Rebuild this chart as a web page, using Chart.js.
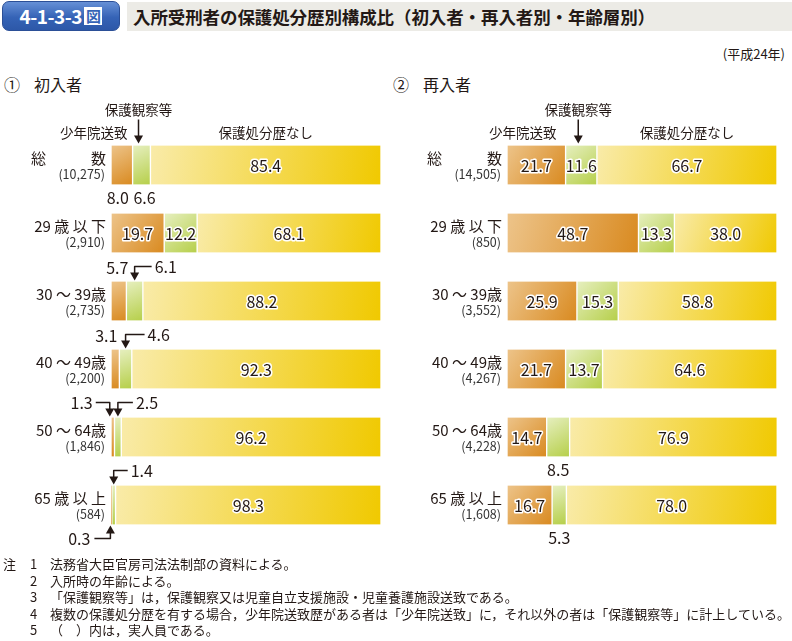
<!DOCTYPE html>
<html lang="ja">
<head>
<meta charset="utf-8">
<title>4-1-3-3図</title>
<script src="https://cdn.jsdelivr.net/npm/chart.js@4.4.1/dist/chart.umd.min.js"></script>
<style>
  body { margin: 0; background: #fff; }
  #page { position: relative; width: 792px; height: 641px; overflow: hidden;
          font-family: "Noto Sans CJK JP", "Noto Sans", sans-serif; color: #231815; }
  .badge { position: absolute; left: 2px; top: 1px; width: 118px; height: 30px; box-sizing: border-box;
           border-radius: 7px; border: 1px solid #2b4f97;
           background: linear-gradient(#6690d6, #3563b6 55%, #2d58a8);
           color: #fff; font-weight: bold; font-size: 19px; line-height: 28px; text-align: center; letter-spacing: -0.5px; }
  .badge span { display: inline-block; font-size: 15px; line-height: 16px; padding: 0 1px; margin-left: 2px;
                border: 1px solid #fff; background: #fff; color: #3563b6; vertical-align: 2px; }
  .band { position: absolute; left: 127px; top: 2px; right: 0; height: 29px; background: #ecebe6; }
  .title { position: absolute; left: 133px; top: 2px; height: 29px; line-height: 29px;
           font-size: 17.5px; font-weight: bold; letter-spacing: -0.1px; }
  .year { position: absolute; right: 7px; top: 44px; font-size: 13px; }
  .panel { position: absolute; top: 72px; font-size: 16px; }
  .panel b { font-weight: normal; margin-left: 14px; }
  .chartbox { position: absolute; top: 95px; width: 397px; height: 465px; }
  .notes { position: absolute; left: 0; top: 556px; font-size: 13px; line-height: 16.5px; }
  .notes div { position: relative; padding-left: 50px; white-space: nowrap; }
  .notes i { font-style: normal; position: absolute; left: 30px; }
  .notes em { font-style: normal; position: absolute; left: 3px; }
</style>
</head>
<body>
<div id="page">
  <div class="band"></div>
  <div class="badge">4-1-3-3<span>図</span></div>
  <div class="title">入所受刑者の保護処分歴別構成比（初入者・再入者別・年齢層別）</div>
  <div class="year">(平成24年)</div>
  <div class="panel" style="left:4px">①<b>初入者</b></div>
  <div class="panel" style="left:393px">②<b>再入者</b></div>

  <div class="chartbox" style="left:0"><canvas id="chartFirst" width="397" height="465"></canvas></div>
  <div class="chartbox" style="left:395px"><canvas id="chartRepeat" width="397" height="465"></canvas></div>

  <div class="notes">
    <div><em>注</em><i>1</i>法務省大臣官房司法法制部の資料による。</div>
    <div><i>2</i>入所時の年齢による。</div>
    <div><i>3</i>「保護観察等」は，保護観察又は児童自立支援施設・児童養護施設送致である。</div>
    <div><i>4</i>複数の保護処分歴を有する場合，少年院送致歴がある者は「少年院送致」に，それ以外の者は「保護観察等」に計上している。</div>
    <div><i>5</i>（　）内は，実人員である。</div>
  </div>
</div>

<script>
'use strict';

// ── データ ──────────────────────────────────────────
const categories = ['総　　　数', '29 歳 以 下', '30 ～ 39歳', '40 ～ 49歳', '50 ～ 64歳', '65 歳 以 上'];
const seriesNames = ['少年院送致', '保護観察等', '保護処分歴なし'];

const firstCounts    = ['(10,275)', '(2,910)', '(2,735)', '(2,200)', '(1,846)', '(584)'];
const firstShonenin  = [8.0, 19.7, 5.7, 3.1, 1.3, 0.3];
const firstHogo      = [6.6, 12.2, 6.1, 4.6, 2.5, 1.4];
const firstNashi     = [85.4, 68.1, 88.2, 92.3, 96.2, 98.3];

const repeatCounts   = ['(14,505)', '(850)', '(3,552)', '(4,267)', '(4,228)', '(1,608)'];
const repeatShonenin = [21.7, 48.7, 25.9, 21.7, 14.7, 16.7];
const repeatHogo     = [11.6, 13.3, 15.3, 13.7, 8.5, 5.3];
const repeatNashi    = [66.7, 38.0, 58.8, 64.6, 76.9, 78.0];

// ── 見た目 ──────────────────────────────────────────
const BAR_H = 39;
const FONT = '"Noto Sans CJK JP", "Noto Sans", sans-serif';
const INK = '#231815';
const gradStops = [
  ['#edc48a', '#d98a20'],   // 少年院送致
  ['#e6efbf', '#b6cf4a'],   // 保護観察等
  ['#f9eba9', '#f0c900']    // 保護処分歴なし
];

// 棒の外に出す数値（"行-系列"）
const firstCallouts = {
  '0-0': { kind: 'below', dx: -4 },
  '0-1': { kind: 'below', dx: 3 },
  '2-0': { kind: 'above', dx: 2 },
  '2-1': { kind: 'arrowRight', len: 17, dx: 0 },
  '3-0': { kind: 'above', dx: -2 },
  '3-1': { kind: 'arrowRight', len: 19, dx: 0 },
  '4-0': { kind: 'arrowLeft', len: 14, dx: -3 },
  '4-1': { kind: 'arrowRight', len: 15, dx: 0 },
  '5-0': { kind: 'arrowUp', len: 16, dx: -1 },
  '5-1': { kind: 'arrowRight', len: 14, dx: 0 }
};
const repeatCallouts = {
  '4-1': { kind: 'below', dx: 0 },
  '5-1': { kind: 'below', dx: 0 }
};

function segBounds(chart, d, i) {
  const ds = chart.data.datasets;
  let start = 0;
  for (let k = 0; k < d; k++) start += ds[k].data[i];
  const end = start + ds[d].data[i];
  const x = chart.scales.x, y = chart.scales.y;
  const yc = y.getPixelForValue(i);
  return { x0: x.getPixelForValue(start), x1: x.getPixelForValue(end),
           top: yc - BAR_H / 2, bottom: yc + BAR_H / 2, yc };
}

function segGradient(ctx) {
  const chart = ctx.chart;
  const stops = gradStops[ctx.datasetIndex];
  if (!chart.chartArea || ctx.type !== 'data') return stops[1];
  const b = segBounds(chart, ctx.datasetIndex, ctx.dataIndex);
  const g = chart.ctx.createLinearGradient(b.x0, b.top, Math.max(b.x1, b.x0 + 1), b.bottom);
  g.addColorStop(0, stops[0]);
  g.addColorStop(1, stops[1]);
  return g;
}

function arrowHead(c, x, y, dir) {
  // y = 先端
  c.beginPath();
  c.moveTo(x, y);
  c.lineTo(x - 4.5, y - 8 * dir);
  c.lineTo(x + 4.5, y - 8 * dir);
  c.closePath();
  c.fill();
}

function fmt(v) { return v.toFixed(1); }

const labelPlugin = {
  id: 'labels',
  afterDatasetsDraw(chart, args, opts) {
    const c = chart.ctx;
    const area = chart.chartArea;
    const ds = chart.data.datasets;
    c.save();
    c.textBaseline = 'middle';

    // 見出し（系列名）
    const r0o = segBounds(chart, 0, 0), r0g = segBounds(chart, 1, 0), r0n = segBounds(chart, 2, 0);
    c.fillStyle = INK;
    c.font = '13.5px ' + FONT;
    c.textAlign = 'right';
    c.fillText(seriesNames[0], r0g.x0 - opts.headGap, r0o.top - 13);
    const ax = (r0g.x0 + r0g.x1) / 2 - 3;
    c.textAlign = 'center';
    c.fillText(seriesNames[1], ax, r0o.top - 36);
    c.fillText(seriesNames[2], (r0n.x0 + r0n.x1) / 2, r0o.top - 13);
    c.strokeStyle = INK;
    c.lineWidth = 1.5;
    c.beginPath();
    c.moveTo(ax, r0o.top - 26);
    c.lineTo(ax, r0o.top - 9);
    c.stroke();
    arrowHead(c, ax, r0o.top - 2, 1);

    // 区分ラベル
    chart.data.labels.forEach((lab, i) => {
      const yc = chart.scales.y.getPixelForValue(i);
      c.textAlign = 'right';
      c.fillStyle = INK;
      c.font = '15px ' + FONT;
      c.fillText(lab, area.left - 5, yc - 7);
      c.font = '12.5px ' + FONT;
      c.fillStyle = '#333';
      c.fillText(opts.counts[i], area.left - 6, yc + 9);
    });

    // 数値
    c.font = '16px ' + FONT;
    ds.forEach((set, d) => {
      set.data.forEach((v, i) => {
        const b = segBounds(chart, d, i);
        const co = opts.callouts[i + '-' + d];
        const cx = (b.x0 + b.x1) / 2;
        c.fillStyle = INK;
        c.strokeStyle = INK;
        c.lineWidth = 1.5;
        if (!co) {
          c.textAlign = 'center';
          c.lineJoin = 'round';
          c.lineWidth = 3;
          c.strokeStyle = '#fff';
          c.strokeText(fmt(v), cx, b.yc + 1);
          c.fillText(fmt(v), cx, b.yc + 1);
          return;
        }
        const x = cx + (co.dx || 0);
        if (co.kind === 'below') {
          c.textAlign = 'center';
          c.fillText(fmt(v), x, b.bottom + 13);
        } else if (co.kind === 'above') {
          c.textAlign = 'right';
          c.fillText(fmt(v), b.x1 + co.dx, b.top - 14);
        } else if (co.kind === 'arrowRight' || co.kind === 'arrowLeft') {
          const ly = b.top - 15;
          const sgn = co.kind === 'arrowRight' ? 1 : -1;
          c.beginPath();
          c.moveTo(x + sgn * co.len, ly);
          c.lineTo(x, ly);
          c.lineTo(x, b.top - 8);
          c.stroke();
          arrowHead(c, x, b.top - 1, 1);
          c.textAlign = sgn > 0 ? 'left' : 'right';
          c.fillText(fmt(v), x + sgn * (co.len + 3), ly);
        } else if (co.kind === 'arrowUp') {
          const ly = b.bottom + 14;
          c.beginPath();
          c.moveTo(x - co.len, ly);
          c.lineTo(x, ly);
          c.lineTo(x, b.bottom + 8);
          c.stroke();
          arrowHead(c, x, b.bottom + 1, -1);
          c.textAlign = 'right';
          c.fillText(fmt(v), x - co.len - 4, ly);
        }
      });
    });
    c.restore();
  }
};

function makeChart(id, values, counts, callouts, pad, headGap) {
  return new Chart(document.getElementById(id), {
    type: 'bar',
    data: {
      labels: categories,
      datasets: values.map((arr, d) => ({
        label: seriesNames[d],
        data: arr,
        backgroundColor: segGradient,
        borderColor: '#fff',
        borderWidth: { left: 1, right: 1, top: 0, bottom: 0 },
        borderSkipped: false,
        barThickness: BAR_H
      }))
    },
    options: {
      indexAxis: 'y',
      responsive: false,
      animation: false,
      layout: { padding: pad },
      scales: {
        x: { stacked: true, min: 0, max: 100, display: false },
        y: { stacked: true, display: false }
      },
      plugins: {
        legend: { display: false },
        tooltip: { enabled: false },
        labels: { counts, callouts, headGap }
      }
    },
    plugins: [labelPlugin]
  });
}

makeChart('chartFirst', [firstShonenin, firstHogo, firstNashi], firstCounts, firstCallouts,
  { left: 111, right: 16, top: 36, bottom: 21 }, 5);
makeChart('chartRepeat', [repeatShonenin, repeatHogo, repeatNashi], repeatCounts, repeatCallouts,
  { left: 112, right: 15, top: 36, bottom: 21 }, 9);
</script>
</body>
</html>
